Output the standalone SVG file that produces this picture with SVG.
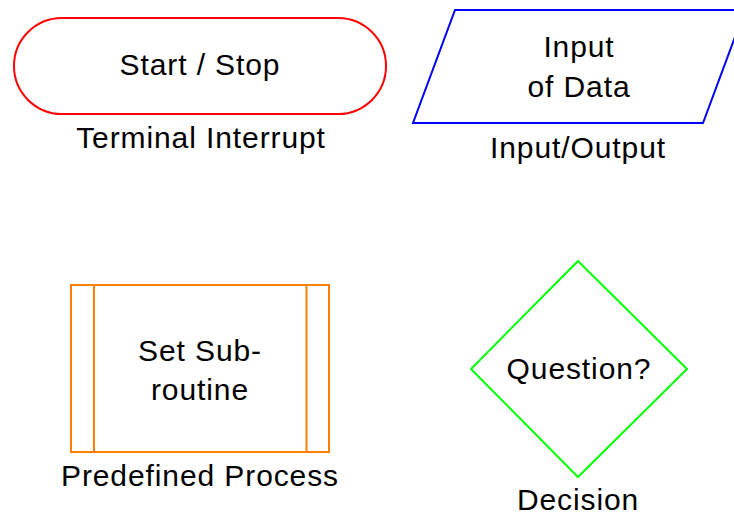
<svg xmlns="http://www.w3.org/2000/svg" width="734" height="516" viewBox="0 0 734 516">
  <style>
    .shape { fill: #ffffff; stroke-width: 2; }
    .txt { font-family: "Liberation Sans", Arial, sans-serif; font-size: 30px; letter-spacing: 0.9px; fill: #000000; text-anchor: middle; }
  </style>
  <rect width="734" height="516" fill="#ffffff"/>

  <!-- Terminal -->
  <g id="terminal">
    <rect class="shape" x="14" y="18" width="372" height="96" rx="48" ry="48" stroke="#ff0000"/>
    <text class="txt" x="200" y="75">Start / Stop</text>
    <text class="txt" x="201" y="148">Terminal Interrupt</text>
  </g>

  <!-- Input / Output -->
  <g id="io">
    <polygon class="shape" points="455,10 745,10 703,123 413,123" stroke="#0000ff"/>
    <text class="txt" x="579" y="57">Input</text>
    <text class="txt" x="579" y="97">of Data</text>
    <text class="txt" x="578" y="158">Input/Output</text>
  </g>

  <!-- Predefined process -->
  <g id="predefined">
    <rect class="shape" x="71" y="285" width="258" height="167" stroke="#ff8000"/>
    <line x1="94" y1="285" x2="94" y2="452" stroke="#ff8000" stroke-width="2"/>
    <line x1="306.5" y1="285" x2="306.5" y2="452" stroke="#ff8000" stroke-width="2"/>
    <text class="txt" x="200" y="361">Set Sub-</text>
    <text class="txt" x="200" y="400">routine</text>
    <text class="txt" x="200" y="486">Predefined Process</text>
  </g>

  <!-- Decision -->
  <g id="decision">
    <polygon class="shape" points="578,261 687,369 578,477 471,369" stroke="#00ff00"/>
    <text class="txt" x="579" y="379">Question?</text>
    <text class="txt" x="578" y="510">Decision</text>
  </g>

  <g id="connectors"/>
</svg>
